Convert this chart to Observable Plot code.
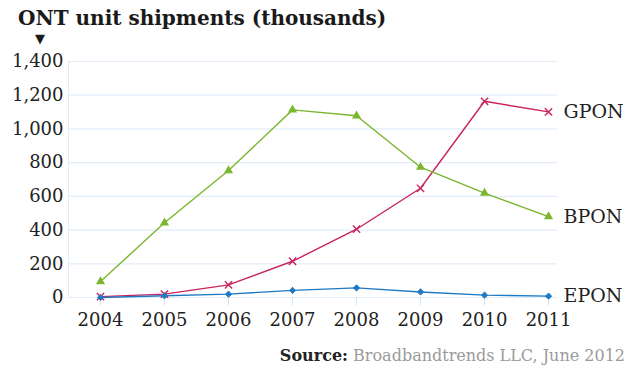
<!DOCTYPE html>
<html>
<head>
<meta charset="utf-8">
<script src="https://cdn.jsdelivr.net/npm/d3@7"></script>
<script src="https://cdn.jsdelivr.net/npm/@observablehq/plot@0.6"></script>
<style>
  html, body { margin: 0; padding: 0; background: #fff; width: 640px; height: 373px; overflow: hidden; }
  #title { font: bold 20px "DejaVu Serif", serif; color: #1a1a1a; margin-left: 18px; padding-top: 4px; height: 28px; line-height: 28px; white-space: nowrap; }
  #arrow { font: 13px "DejaVu Sans", sans-serif; color: #1a1a1a; margin-left: 35px; height: 14px; line-height: 14px; }
  #chart svg { display: block; }
  #caption { font: 16px "DejaVu Serif", serif; color: #9a9a9a; text-align: right; padding-right: 15px; margin-top: 7px; line-height: 18px; white-space: nowrap; }
  #caption b { color: #222; }
</style>
</head>
<body>
<div id="title">ONT unit shipments (thousands)</div>
<div id="arrow">▼</div>
<div id="chart"></div>
<div id="caption"><b>Source:</b> Broadbandtrends LLC, June 2012</div>
<script>
const years = [2004, 2005, 2006, 2007, 2008, 2009, 2010, 2011];
const seriesNames = ["GPON", "BPON", "EPON"];
const gpon = [5, 20, 75, 215, 405, 648, 1164, 1101];
const bpon = [95, 443, 753, 1113, 1078, 773, 619, 480];
const epon = [0, 10, 20, 42, 57, 33, 14, 8];
const yTicks = [0, 200, 400, 600, 800, 1000, 1200, 1400];
const colors = ["#c8245e", "#7ab62e", "#1f7ac4"];

const valuesBySeries = [gpon, bpon, epon];
const data = [];
seriesNames.forEach((s, i) => years.forEach((yr, j) => data.push({series: s, year: yr, value: valuesBySeries[i][j]})));
const last = seriesNames.map((s, i) => ({series: s, year: years[years.length - 1], value: valuesBySeries[i][years.length - 1]}));

const grid = "#e2edf8";
const font = "DejaVu Serif, serif";

const chart = Plot.plot({
  width: 640,
  height: 294,
  marginLeft: 68,
  marginRight: 83,
  marginTop: 15,
  marginBottom: 43,
  style: {fontFamily: font, background: "white", overflow: "visible"},
  x: {type: "linear", domain: [2003.5, 2011.14], axis: null, label: null},
  y: {domain: [0, 1400], axis: null, label: null},
  color: {domain: seriesNames, range: colors},
  marks: [
    Plot.ruleY(yTicks, {stroke: grid, strokeWidth: 1.2}),
    Plot.ruleX([2003.5], {y1: 0, y2: 1400, stroke: grid, strokeWidth: 1.2}),
    Plot.axisX({ticks: years, tickFormat: d => String(d), tickSize: 8, tickPadding: 8, stroke: "#d3e3f2", fill: "#222", fontSize: 18, fontFamily: font, label: null}),
    Plot.axisY({ticks: yTicks, tickFormat: d3.format(","), tickSize: 0, tickPadding: 5, fill: "#222", fontSize: 18, fontFamily: font, label: null}),
    Plot.line(data, {x: "year", y: "value", z: "series", stroke: "series", strokeWidth: 1.4}),
    Plot.dot(data.filter(d => d.series === "GPON"), {x: "year", y: "value", symbol: "times", stroke: "series", r: 3.4, strokeWidth: 1.4}),
    Plot.dot(data.filter(d => d.series === "BPON"), {x: "year", y: "value", symbol: "triangle", fill: "series", r: 3.4}),
    Plot.dot(data.filter(d => d.series === "EPON"), {x: "year", y: "value", symbol: "diamond2", stroke: "series", fill: "series", r: 2.8, strokeWidth: 1}),
    Plot.text(last, {x: "year", y: "value", text: "series", dx: 15, textAnchor: "start", fill: "#222", fontSize: 19, fontFamily: font})
  ]
});
document.getElementById("chart").append(chart);
</script>
</body>
</html>
